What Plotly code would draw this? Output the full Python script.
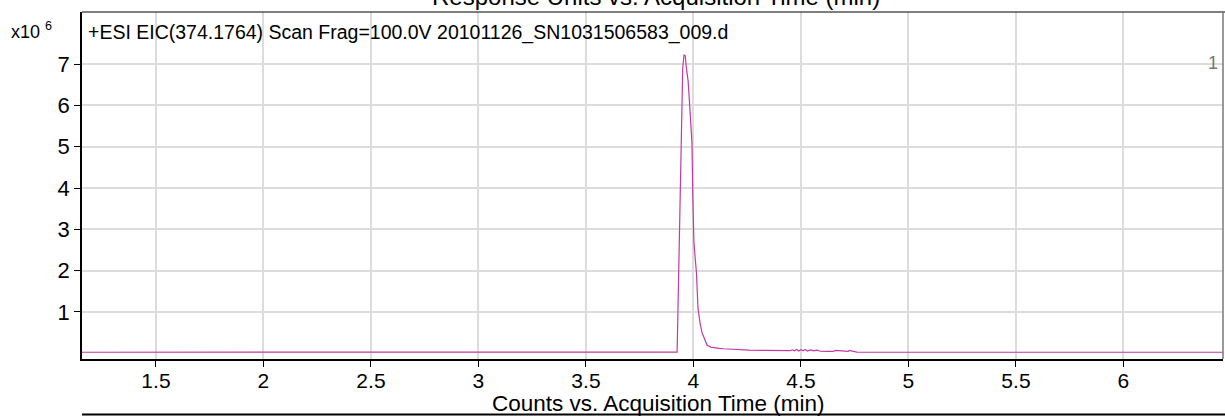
import plotly.graph_objects as go

# Acquisition time (min) and counts (x10^6)
times = [1.156, 2.0, 3.0, 3.5, 3.900, 3.924, 3.930, 3.934, 3.936, 3.938, 3.942, 3.946, 3.950,
         3.956, 3.962, 3.966, 3.970, 3.975, 3.980, 3.987, 3.993, 3.997, 4.002, 4.008, 4.014,
         4.021, 4.030, 4.040, 4.052, 4.063, 4.080, 4.100, 4.120, 4.140, 4.170, 4.200, 4.260,
         4.330, 4.400, 4.450, 4.460, 4.470, 4.480, 4.490, 4.500, 4.510, 4.520, 4.530, 4.545,
         4.560, 4.575, 4.590, 4.620, 4.650, 4.660, 4.700, 4.720, 4.725, 4.760, 5.0, 5.5, 6.0, 6.463]
counts = [0.025, 0.025, 0.025, 0.025, 0.025, 0.030, 1.60, 2.70, 3.30, 4.20, 5.10, 6.10, 6.90,
          7.22, 7.20, 6.95, 6.80, 6.60, 6.20, 5.60, 5.10, 3.80, 2.70, 2.30, 1.95,
          1.10, 0.75, 0.50, 0.32, 0.20, 0.15, 0.13, 0.12, 0.11, 0.10, 0.09, 0.075,
          0.07, 0.065, 0.065, 0.085, 0.06, 0.09, 0.055, 0.085, 0.06, 0.09, 0.055, 0.08,
          0.06, 0.075, 0.05, 0.045, 0.045, 0.07, 0.045, 0.045, 0.07, 0.03, 0.025, 0.025, 0.025, 0.025]

y_tick_vals = [1, 2, 3, 4, 5, 6, 7]
x_tick_vals = [1.5, 2, 2.5, 3, 3.5, 4, 4.5, 5, 5.5, 6]
x_tick_text = ["1.5", "2", "2.5", "3", "3.5", "4", "4.5", "5", "5.5", "6"]

header = "+ESI EIC(374.1764) Scan Frag=100.0V 20101126_SN1031506583_009.d"
top_title = "Response Units vs. Acquisition Time (min)"
x_title = "Counts vs. Acquisition Time (min)"

FONT = "Liberation Sans, Arial, sans-serif"

# plot area in page pixels: left 82, right 1223, top 12, bottom 359
PH = 347.0
PW = 1141.0

def py(p):
    return (359 - p) / PH

def px(p):
    return (p - 82) / PW

fig = go.Figure()
fig.add_trace(go.Scatter(
    x=times, y=[c * 1e6 for c in counts], mode="lines",
    line=dict(color="#c03ca0", width=1.2), hoverinfo="skip", showlegend=False))

fig.update_layout(
    width=1225, height=416,
    margin=dict(l=82, r=2, t=12, b=57, autoexpand=False),
    paper_bgcolor="white", plot_bgcolor="white",
    font=dict(family=FONT, color="black"),
    xaxis=dict(
        range=[1.156, 6.463], tickvals=x_tick_vals, ticktext=x_tick_text,
        showgrid=True, gridcolor="#dcdcdc", gridwidth=1.5,
        showline=True, linecolor="black", linewidth=2,
        ticks="outside", ticklen=6, tickcolor="black", tickwidth=1,
        ticklabelstandoff=-4,
        tickfont=dict(size=21, family=FONT, color="black"),
        zeroline=False, fixedrange=True, automargin=False),
    yaxis=dict(
        range=[-0.138e6, 8.26e6], tickvals=[v * 1e6 for v in y_tick_vals],
        ticktext=[str(v) for v in y_tick_vals],
        showgrid=True, gridcolor="#dcdcdc", gridwidth=1.5,
        showline=True, linecolor="black", linewidth=1.5,
        ticks="outside", ticklen=6, tickcolor="black", tickwidth=1,
        tickfont=dict(size=22, family=FONT, color="black"),
        zeroline=False, fixedrange=True, automargin=False),
)

# frame lines: top and right
fig.add_shape(type="line", xref="paper", yref="paper", x0=0, x1=1.002, y0=1, y1=1,
              line=dict(color="black", width=1.2))
fig.add_shape(type="line", xref="paper", yref="paper", x0=1, x1=1, y0=0, y1=1,
              line=dict(color="#777777", width=1.5))
# bottom separator line
fig.add_shape(type="line", xref="paper", yref="paper", x0=0, x1=1.002, y0=py(414.5), y1=py(414.5),
              line=dict(color="black", width=2))

fig.add_annotation(xref="paper", yref="paper", x=px(86), y=py(32), xanchor="left", yanchor="middle",
                   text=header, showarrow=False, font=dict(size=19.5, family=FONT, color="black"))
fig.add_annotation(xref="paper", yref="paper", x=px(656), y=py(-3.5), xanchor="center",
                   yanchor="middle", text=top_title, showarrow=False,
                   font=dict(size=24, family=FONT, color="black"))
fig.add_annotation(xref="paper", yref="paper", x=px(658), y=py(403.5), xanchor="center",
                   yanchor="middle", text=x_title, showarrow=False,
                   font=dict(size=22.5, family=FONT, color="black"))
fig.add_annotation(xref="paper", yref="paper", x=px(9), y=py(31), xanchor="left", yanchor="middle",
                   text="x10 <sup>6</sup>", showarrow=False,
                   font=dict(size=18, family=FONT, color="black"))
fig.add_annotation(xref="paper", yref="paper", x=px(1220), y=py(63), xanchor="right",
                   yanchor="middle", text="1", showarrow=False,
                   font=dict(size=18, family=FONT, color="#777777"))

fig.write_html("out.html", config={"displayModeBar": False},
               post_script="document.body.style.margin='0';")
